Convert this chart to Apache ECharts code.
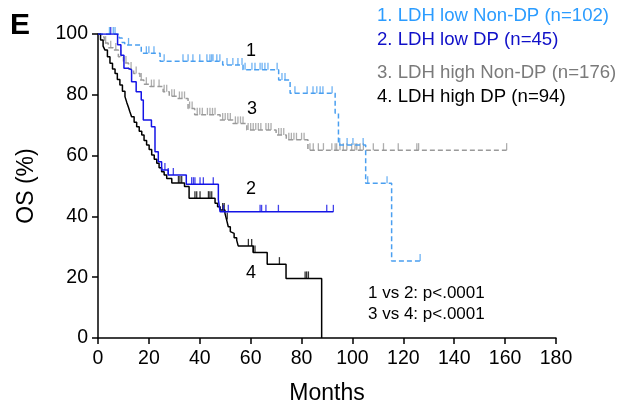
<!DOCTYPE html>
<html><head><meta charset="utf-8">
<script src="https://cdn.jsdelivr.net/npm/echarts@6/dist/echarts.min.js"></script>
<style>html,body{margin:0;padding:0;background:#fff}#c{width:620px;height:407px}</style>
</head><body><div id="c"></div>
<script>
// Kaplan-Meier step points [months, OS %] (level after each drop)
var curve1 = [[0,100],[8.4,98.7],[9.5,97.2],[10.5,96.4],[17,93.7],[24.4,91],[49,89.8],[57,88.2],[71,84.9],[75.5,80.5],[93.2,73.9],[94.5,63.5],[105.2,50.9],[115.4,25.3],[126.6,25.3]];
var curve2 = [[0,100],[7.7,96.5],[9,93],[10.2,88.7],[12,88.2],[13.2,84.3],[15,81],[17,78.3],[17.8,71.7],[21,69.5],[22.4,61.3],[23.7,58],[25,55.3],[27.6,53.6],[34.7,50.6],[47.3,45.4],[48,41.5],[92.5,41.5]];
var curve3 = [[0,100],[1.5,99],[2.5,97],[4,95.5],[6,94.7],[8,92.5],[10,90.5],[12,88.5],[14,87],[16.5,84.9],[18,83.5],[20.4,82.7],[25.6,81],[28,79.5],[31,78.8],[35.4,75.5],[38,73.4],[48,71.7],[53,70.6],[58.5,68.4],[70,66.8],[74,65.2],[82.5,61.8],[160.6,61.8]];
var curve4 = [[0,100],[1,98],[2,96],[2.75,94.7],[3.7,92.5],[4.7,90.4],[5.7,88.5],[6.7,87],[7.6,85],[8.6,83.2],[9.6,81.2],[10.6,79.4],[11.3,77.5],[11.9,76.1],[12.5,74.5],[13.2,72.8],[14.2,71],[15.2,69.5],[16.2,68],[17.2,66.8],[18.1,65],[19.1,63.5],[20.1,62],[21.1,60.2],[22.1,58.8],[23.1,57.5],[24,56],[25,54.7],[26,53.6],[27,52.5],[29,51],[34,49.8],[35.8,46],[46,44.3],[47,43.2],[48,42.1],[49.9,41],[50.5,39],[51.2,36.6],[52,35],[52.5,34.4],[53.5,33],[54.5,32.2],[55.1,30.3],[61,28.1],[66.5,24.3],[73.9,19.6],[87.9,0]];

// censor times (months)
var cens1 = [4.5,6,6.7,12,19,20,22,26,33.4,35.4,37.3,40,42.8,44,44.7,45.2,46.7,47.9,50.7,53,55,56.6,57.8,60.5,61.7,63.7,64.5,65.6,66.8,70.4,72.3,73.5,77.4,82.2,84.5,86,87.3,88.4,92,95,97.9,100.2,104.2,106,113.6,126.6];
var cens2 = [5,26.3,27.6,29.6,36.8,37.5,38.1,40.1,41.4,45.3,49.3,51.2,63.7,64.3,66,70.9,89.9,92.5];
var cens3 = [3,5,7,9,11,13,15,17,19,21,22,24,26,27,29,30,32,33,34,36,37,39,40,41,43,44,45,46,49,50,51,52,54,55,56,57,59,60,61,62,63,64,66,67,68,71,72,73,75,76,77,78,80,81,83.3,84.6,86.6,88.6,91.9,93.2,93.8,95.1,96.4,97.8,99.7,101,101.7,103,104.3,108.2,112.2,118,125.3,126,160.6];
var cens4 = [31.6,32.2,32.9,38.1,38.8,40.1,43.4,44,44.7,49,49.6,50.8,59.1,60.4,61,61.7,71.3,81.4,82,82.7];

var xTicks = [0,20,40,60,80,100,120,140,160,180];
var yTicks = [0,20,40,60,80,100];
var legendNames = ['1. LDH low Non-DP (n=102)','2. LDH low DP (n=45)','3. LDH high Non-DP (n=176)','4. LDH high DP (n=94)'];
var pTexts = ['1 vs 2: p<.0001','3 vs 4: p<.0001'];

function levelAt(curve, t){ var v = curve[0][1]; for (var i=0;i<curve.length;i++){ if (curve[i][0] <= t) v = curve[i][1]; } return v; }
function censPts(curve, times){ return times.map(function(t){ return [t, levelAt(curve,t)]; }); }

var C1 = '#4a9ff0', C2 = '#1414e6', C3 = '#9a9a9a', C4 = '#000000';
var F = 'Liberation Sans, Arial, Helvetica, sans-serif';

function lineS(data, color, dashed, z){
  return {type:'line', step:'end', data:data, symbol:'none', z:z, silent:true, animation:false,
    lineStyle:{color:color, width:1.5, type: dashed ? [5,3] : 'solid'}};
}
function tickS(data, color, z){
  return {type:'scatter', data:data, symbol:'rect', symbolSize:[1.3,7], symbolOffset:[0,'-50%'], z:z, silent:true, animation:false,
    itemStyle:{color:color}};
}

var chart = echarts.init(document.getElementById('c'), null, {renderer:'canvas'});
chart.setOption({
  animation:false,
  grid:{left:98, right:64, top:34, bottom:69, containLabel:false, outerBoundsMode:'none'},
  xAxis:{type:'value', min:0, max:180, interval:20, name:'Months', nameLocation:'middle', nameGap:44,
    nameTextStyle:{fontFamily:F, fontSize:23, color:'#000'},
    axisLine:{lineStyle:{color:'#000', width:1.5}}, axisTick:{length:6, lineStyle:{color:'#000', width:1.5}},
    axisLabel:{fontFamily:F, fontSize:19.5, color:'#000', margin:11, formatter:function(v){return xTicks.indexOf(v)>=0? String(v):'';}},
    splitLine:{show:false}},
  yAxis:{type:'value', min:0, max:100, interval:20, name:'OS (%)', nameLocation:'middle', nameGap:60, nameRotate:90,
    nameTextStyle:{fontFamily:F, fontSize:23, color:'#000'},
    axisLine:{lineStyle:{color:'#000', width:1.5}}, axisTick:{length:6, lineStyle:{color:'#000', width:1.5}},
    axisLabel:{fontFamily:F, fontSize:19.5, color:'#000', margin:10, formatter:function(v){return yTicks.indexOf(v)>=0? String(v):'';}},
    splitLine:{show:false}},
  series:[
    lineS(curve3, C3, true, 2), tickS(censPts(curve3,cens3), C3, 2),
    lineS(curve1, C1, true, 3), tickS(censPts(curve1,cens1), C1, 3),
    lineS(curve4, C4, false, 4), tickS(censPts(curve4,cens4), C4, 4),
    lineS(curve2, C2, false, 5), tickS(censPts(curve2,cens2), C2, 5)
  ],
  graphic:[
    {type:'text', left:10, top:11, style:{text:'E', font:'bold 30px '+F, fill:'#000'}},
    {type:'text', left:377, top:6, style:{text:legendNames[0], font:'18.6px '+F, fill:'#2b9cff'}},
    {type:'text', left:377, top:30, style:{text:legendNames[1], font:'18.6px '+F, fill:'#1010c8'}},
    {type:'text', left:377, top:63, style:{text:legendNames[2], font:'18.6px '+F, fill:'#7a7a7a'}},
    {type:'text', left:377, top:87, style:{text:legendNames[3], font:'18.6px '+F, fill:'#000'}},
    {type:'text', left:246, top:42, style:{text:'1', font:'18px '+F, fill:'#000'}},
    {type:'text', left:247, top:100, style:{text:'3', font:'18px '+F, fill:'#000'}},
    {type:'text', left:246, top:180, style:{text:'2', font:'18px '+F, fill:'#000'}},
    {type:'text', left:246, top:264, style:{text:'4', font:'18px '+F, fill:'#000'}},
    {type:'text', left:368, top:285, style:{text:pTexts[0], font:'17px '+F, fill:'#000'}},
    {type:'text', left:368, top:306, style:{text:pTexts[1], font:'17px '+F, fill:'#000'}}
  ]
});
</script></body></html>
